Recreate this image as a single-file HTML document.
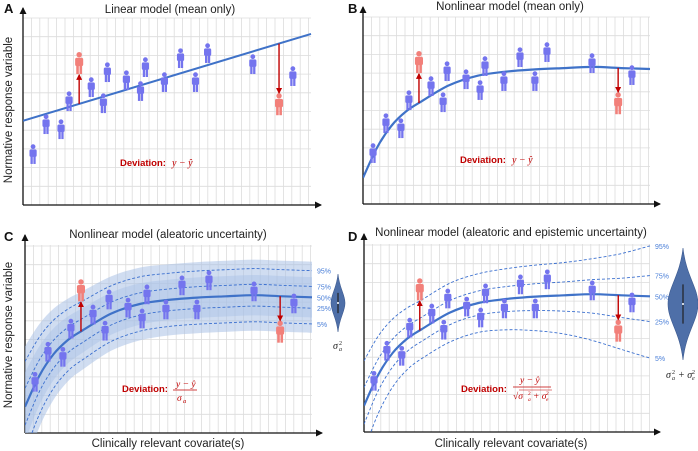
<!DOCTYPE html>
<html><head><meta charset="utf-8"><style>
html,body{margin:0;padding:0;background:#fff;}
svg{display:block;font-family:"Liberation Sans",sans-serif;}
</style></head><body>
<svg id="fig" width="698" height="451" viewBox="0 0 698 451"></svg>
<script>
// ---- data ----
var peopleX = [3.5, 8, 13.2, 16, 23.7, 27.9, 29.3, 35.9, 40.8, 42.5, 49.1, 54.7, 59.9, 64.1, 79.8, 93.7];
var peopleY = [27.3, 43.3, 40.6, 55.6, 63.1, 54.5, 71.1, 66.8, 61, 73.8, 65.8, 78.6, 65.8, 81.3, 75.4, 69];
var redX = [19.5, 88.9];
var redY = [76, 54];
var linearX = [0, 100];
var linearY = [45, 91.5];
var curveX = [0, 5, 10, 15, 20, 30, 40, 50, 60, 70, 80, 90, 100];
var curveY = [14, 30.5, 42, 49.5, 54.5, 63.5, 68.6, 70.8, 72, 72.7, 73.3, 72.7, 72.2];
var sdC = [14.6, 12.5, 11, 10, 9.5, 9, 8.8, 8.6, 8.6, 8.6, 8.6, 8.6, 8.6];
var sdDup = [14.5, 12.5, 11, 10, 9.5, 9.5, 9.5, 9.8, 10.2, 10.6, 11.5, 13.5, 16.3];
var sdDlo = [14.5, 12.5, 11, 10, 9.5, 9.5, 9.5, 10, 11, 12.5, 15, 17.5, 20];
var quantZ = [1.645, 0.674, 0, -0.674, -1.645];
var quantLabels = ["95%", "75%", "50%", "25%", "5%"];

var NS = "http://www.w3.org/2000/svg";
var svg = document.getElementById("fig");
function el(tag, attrs, parent){var e=document.createElementNS(NS,tag);for(var k in attrs)e.setAttribute(k,attrs[k]);(parent||svg).appendChild(e);return e;}

var panels = {
  A:{ox:23,oy:205,W:288,H:187,title:"Linear model (mean only)",tx:170,ty:13,lx:4,ly:13},
  B:{ox:363,oy:204,W:287,H:187,title:"Nonlinear model (mean only)",tx:510,ty:10,lx:348,ly:13},
  C:{ox:25,oy:433,W:287,H:188,title:"Nonlinear model (aleatoric uncertainty)",tx:168,ty:238,lx:4,ly:241},
  D:{ox:364,oy:432,W:286,H:188,title:"Nonlinear model (aleatoric and epistemic uncertainty)",tx:511,ty:236,lx:348,ly:241}
};
function sx(p,v){return p.ox+v/100*p.W;}
function sy(p,v){return p.oy-v/100*p.H;}
function interp(xs,ys,x){for(var i=0;i<xs.length-1;i++){if(x<=xs[i+1]){var t=(x-xs[i])/(xs[i+1]-xs[i]);return ys[i]+t*(ys[i+1]-ys[i]);}}return ys[ys.length-1];}
function spline(p,xs,ys){
  var pts=xs.map(function(x,i){return [sx(p,x),sy(p,ys[i])];});
  var d="M"+pts[0][0].toFixed(1)+","+pts[0][1].toFixed(1);
  for(var i=0;i<pts.length-1;i++){
    var p0=pts[Math.max(0,i-1)],p1=pts[i],p2=pts[i+1],p3=pts[Math.min(pts.length-1,i+2)];
    var c1=[p1[0]+(p2[0]-p0[0])/6,p1[1]+(p2[1]-p0[1])/6];
    var c2=[p2[0]-(p3[0]-p1[0])/6,p2[1]-(p3[1]-p1[1])/6];
    d+=" C"+c1[0].toFixed(1)+","+c1[1].toFixed(1)+" "+c2[0].toFixed(1)+","+c2[1].toFixed(1)+" "+p2[0].toFixed(1)+","+p2[1].toFixed(1);
  }
  return d;
}
var defs=el("defs",{});
var mk=el("marker",{id:"arr",markerWidth:"6",markerHeight:"6",refX:"5",refY:"3",orient:"auto",markerUnits:"userSpaceOnUse"},defs);
el("path",{d:"M0,0 L6,3 L0,6 z",fill:"#c00000"},mk);
var mk2=el("marker",{id:"ax",markerWidth:"7",markerHeight:"7",refX:"6",refY:"3.5",orient:"auto",markerUnits:"userSpaceOnUse"},defs);
el("path",{d:"M0,0 L7,3.5 L0,7 z",fill:"#111"},mk2);

function person(p,x,y,color,scale,g,name){
  var cx=sx(p,x),cy=sy(p,y),s=scale;
  var gg=el("g",{transform:"translate("+cx+","+cy+") scale("+s+")"},g);
  
  
  el("circle",{cx:0,cy:-7.3,r:2.4,fill:color},gg);
  el("rect",{x:-3.6,y:-4.6,width:7.2,height:7.5,rx:1.6,fill:color},gg);
  el("rect",{x:-2.6,y:2,width:2.3,height:8,fill:color},gg);
  el("rect",{x:0.3,y:2,width:2.3,height:8,fill:color},gg);
}

function drawPanel(key){
  var p=panels[key];
  var g=el("g",{});
  
  
  var top=p.oy-p.H;
  // grid
  var grid=el("g",{stroke:"#dcdcdc","stroke-width":"0.8"},g);
  
  
  for(var gx=p.ox+8.4;gx<=p.ox+p.W;gx+=8.4) el("line",{x1:gx,y1:top,x2:gx,y2:p.oy},grid);
  for(var gy=p.oy-18.7;gy>=top-1;gy-=18.7) el("line",{x1:p.ox,y1:gy,x2:p.ox+p.W,y2:gy},grid);
  // axes
  var ya=el("line",{x1:p.ox,y1:p.oy,x2:p.ox,y2:top-10,stroke:"#111","stroke-width":"1.3","marker-end":"url(#ax)"},g);
  
  var xa=el("line",{x1:p.ox,y1:p.oy,x2:p.ox+p.W+10,y2:p.oy,stroke:"#111","stroke-width":"1.3","marker-end":"url(#ax)"},g);
  
  // title & letter
  var t=el("text",{x:p.tx,y:p.ty,"text-anchor":"middle","font-size":"11.5",fill:"#222"},g);t.textContent=p.title;
  
  var l=el("text",{x:p.lx,y:p.ly,"font-size":"13","font-weight":"bold",fill:"#111"},g);l.textContent=key;
  

  var clip=el("clipPath",{id:"clip"+key},defs);
  el("rect",{x:p.ox,y:top-12,width:p.W+2,height:p.H+12},clip);
  var cg=el("g",{"clip-path":"url(#clip"+key+")"},g);

  var fx, fy;
  if(key==="A"){ fx=function(x){return interp(linearX,linearY,x);}; }
  else { fx=function(x){return interp(curveX,curveY,x);}; }

  if(key==="C"){
    var bands=[2.2,1.25];
    bands.forEach(function(k,bi){
      var up=curveX.map(function(x,i){return curveY[i]+k*sdC[i];});
      var lo=curveX.map(function(x,i){return curveY[i]-k*sdC[i];});
      var d=spline(p,curveX,up);
      var dl=spline(p,curveX.slice().reverse(),lo.slice().reverse());
      var b=el("path",{d:d+" L"+dl.slice(1),fill:"#a9c1e6","fill-opacity":bi?"0.45":"0.55",stroke:"none"},cg);
      
    });
  }
  if(key==="C"||key==="D"){
    quantZ.forEach(function(z,qi){
      if(z===0) return;
      var ys=curveX.map(function(x,i){var s=key==="C"?sdC[i]:(z>0?sdDup[i]:sdDlo[i]);return curveY[i]+z*s;});
      var q=el("path",{d:spline(p,curveX,ys),fill:"none",stroke:"#3a6fcf","stroke-width":"0.9","stroke-dasharray":"3,2"},cg);
      
    });
    quantZ.forEach(function(z,qi){
      var n=curveX.length-1;
      var s=key==="C"?sdC[n]:(z>0?sdDup[n]:sdDlo[n]);
      var yv=curveY[n]+z*s;
      var tl=el("text",{x:p.ox+p.W+5,y:sy(p,yv)+3,"font-size":"7",fill:"#4a7fd8"},g);tl.textContent=quantLabels[qi];
      
    });
  }
  // main fit
  var fit;
  if(key==="A") fit=el("path",{d:"M"+sx(p,linearX[0])+","+sy(p,linearY[0])+" L"+sx(p,linearX[1])+","+sy(p,linearY[1]),stroke:"#3f72c8","stroke-width":"2",fill:"none"},cg);
  else fit=el("path",{d:spline(p,curveX,curveY),stroke:"#3f72c8","stroke-width":"2.2",fill:"none"},cg);
  

  // people
  for(var i=0;i<peopleX.length;i++) person(p,peopleX[i],peopleY[i],"#7474ee",1,g,"participant");
  for(var j=0;j<redX.length;j++){
    person(p,redX[j],redY[j],"#f2807a",1.12,g,"outlier-participant");
    var cyv=sy(p,fx(redX[j])), py=sy(p,redY[j]);
    var end = py<cyv ? py+12 : py-11;
    var a=el("line",{x1:sx(p,redX[j]),y1:cyv,x2:sx(p,redX[j]),y2:end,stroke:"#c00000","stroke-width":"1.4","marker-end":"url(#arr)"},g);
    
  }
}
["A","B","C","D"].forEach(drawPanel);

function txt(x,y,s,attrs,name){var a={x:x,y:y};for(var k in attrs)a[k]=attrs[k];var t=el("text",a);t.textContent=s;return t;}
// axis titles
txt(12,110,"Normative response variable",{"font-size":"11.5",fill:"#222","text-anchor":"middle",transform:"rotate(-90 12 110)"},"y-axis-title");
txt(12,335,"Normative response variable",{"font-size":"11.5",fill:"#222","text-anchor":"middle",transform:"rotate(-90 12 335)"},"y-axis-title");
txt(168,447,"Clinically relevant covariate(s)",{"font-size":"11.5",fill:"#222","text-anchor":"middle"},"x-axis-title");
txt(511,447,"Clinically relevant covariate(s)",{"font-size":"11.5",fill:"#222","text-anchor":"middle"},"x-axis-title");

// deviation labels
var red="#c00000";
function dev(x,y){var t=txt(x,y,"Deviation: ",{"font-size":"9.5","font-weight":"bold",fill:red},"deviation-label");return t;}
dev(120,166); txt(172,166,"y − ŷ",{"font-size":"10","font-style":"italic","font-family":"Liberation Serif,serif",fill:red},"deviation-formula");
dev(460,163); txt(512,163,"y − ŷ",{"font-size":"10","font-style":"italic","font-family":"Liberation Serif,serif",fill:red},"deviation-formula");
dev(122,392);
txt(176,387,"y − ŷ",{"font-size":"9.5","font-style":"italic","font-family":"Liberation Serif,serif",fill:red},"deviation-numerator");
el("line",{x1:173,y1:390,x2:197,y2:390,stroke:red,"stroke-width":"0.8"});
txt(177,401,"σ",{"font-size":"9.5","font-style":"italic","font-family":"Liberation Serif,serif",fill:red},"deviation-denominator");
txt(183,403,"a",{"font-size":"6.5","font-style":"italic","font-family":"Liberation Serif,serif",fill:red},"subscript");
dev(461,392);
txt(520,383,"y − ŷ",{"font-size":"9.5","font-style":"italic","font-family":"Liberation Serif,serif",fill:red},"deviation-numerator");
el("line",{x1:513,y1:387,x2:551,y2:387,stroke:red,"stroke-width":"0.8"});
txt(513,399,"√σ",{"font-size":"9.5","font-style":"italic","font-family":"Liberation Serif,serif",fill:red},"deviation-denominator");
txt(528,395,"2",{"font-size":"5.5","font-family":"Liberation Serif,serif",fill:red},"superscript");
txt(528,401,"a",{"font-size":"5.5","font-style":"italic","font-family":"Liberation Serif,serif",fill:red},"subscript");
txt(533,399,"+ σ",{"font-size":"9.5","font-style":"italic","font-family":"Liberation Serif,serif",fill:red},"deviation-denominator");
txt(546,395,"2",{"font-size":"5.5","font-family":"Liberation Serif,serif",fill:red},"superscript");
txt(546,401,"e",{"font-size":"5.5","font-style":"italic","font-family":"Liberation Serif,serif",fill:red},"subscript");
el("line",{x1:519,y1:390,x2:552,y2:390,stroke:red,"stroke-width":"0.6"});

// violins
function violin(cx,cy,hw,hh,name){
  var d="M"+cx+","+(cy-hh)+" C"+(cx+hw*0.2)+","+(cy-hh*0.5)+" "+(cx+hw)+","+(cy-hh*0.3)+" "+(cx+hw)+","+cy+
    " C"+(cx+hw)+","+(cy+hh*0.3)+" "+(cx+hw*0.2)+","+(cy+hh*0.5)+" "+cx+","+(cy+hh)+
    " C"+(cx-hw*0.2)+","+(cy+hh*0.5)+" "+(cx-hw)+","+(cy+hh*0.3)+" "+(cx-hw)+","+cy+
    " C"+(cx-hw)+","+(cy-hh*0.3)+" "+(cx-hw*0.2)+","+(cy-hh*0.5)+" "+cx+","+(cy-hh)+"z";
  var v=el("path",{d:d,fill:"#4e6fa8",stroke:"#3c5a90","stroke-width":"0.6"});
  
  el("line",{x1:cx,y1:cy-hh*0.35,x2:cx,y2:cy+hh*0.35,stroke:"#222","stroke-width":"1.2"});
  el("circle",{cx:cx,cy:cy,r:1,fill:"#fff"});
}
violin(338,303,7,29,"aleatoric-violin");
violin(683,304,15,56,"total-violin");
txt(333,349,"σ",{"font-size":"10","font-style":"italic","font-family":"Liberation Serif,serif",fill:"#222"},"violin-label");
txt(339,345,"2",{"font-size":"6","font-family":"Liberation Serif,serif",fill:"#222"},"superscript");
txt(339,351,"a",{"font-size":"6","font-style":"italic","font-family":"Liberation Serif,serif",fill:"#222"},"subscript");
txt(666,378,"σ",{"font-size":"10","font-style":"italic","font-family":"Liberation Serif,serif",fill:"#222"},"violin-label");
txt(672,374,"2",{"font-size":"6","font-family":"Liberation Serif,serif",fill:"#222"},"superscript");
txt(672,380,"a",{"font-size":"6","font-style":"italic","font-family":"Liberation Serif,serif",fill:"#222"},"subscript");
txt(678,378,"+ σ",{"font-size":"10","font-style":"italic","font-family":"Liberation Serif,serif",fill:"#222"},"violin-label");
txt(692,374,"2",{"font-size":"6","font-family":"Liberation Serif,serif",fill:"#222"},"superscript");
txt(692,380,"e",{"font-size":"6","font-style":"italic","font-family":"Liberation Serif,serif",fill:"#222"},"subscript");
</script>
</body></html>
